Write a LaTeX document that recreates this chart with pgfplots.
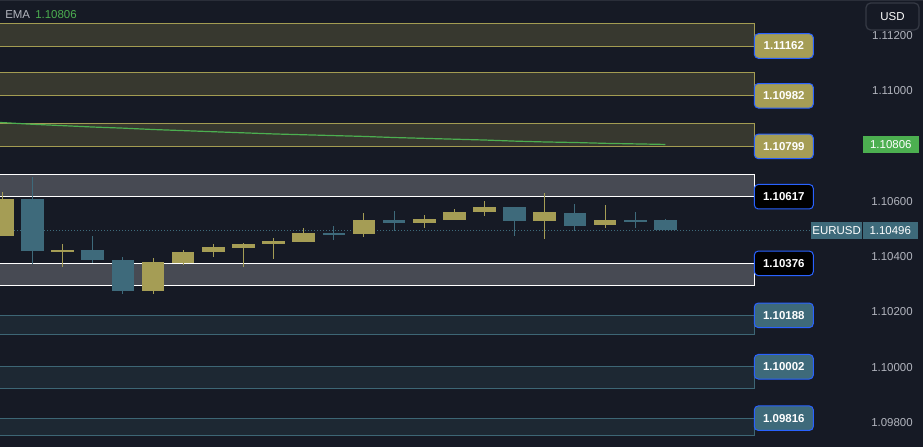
\documentclass[border=0pt]{standalone}
\usepackage{pgfplots}
\pgfplotsset{compat=1.18}
\usepackage{pgfplotstable}
\usepackage{fontspec}
\setmainfont{Liberation Sans}
\definecolor{bg}{HTML}{161A25}
\definecolor{topc}{HTML}{2A2E39}
\definecolor{olivefill}{HTML}{37382F}
\definecolor{oliveline}{HTML}{A39C52}
\definecolor{olivelab}{HTML}{A59D55}
\definecolor{whitefill}{HTML}{474A53}
\definecolor{bluefill}{HTML}{1D2833}
\definecolor{blueline}{HTML}{3D6675}
\definecolor{bluelab}{HTML}{3E6A7A}
\definecolor{bullc}{HTML}{A59D55}
\definecolor{bearc}{HTML}{3E6A7B}
\definecolor{emac}{HTML}{4CAF50}
\definecolor{tickgray}{HTML}{B2B5BE}
\definecolor{lblue}{HTML}{2962FF}
\definecolor{usdline}{HTML}{363A45}

% candles: index open high low close
\pgfplotstableread{
i o h l c
0 1.10475 1.10634 1.10475 1.10608
2 1.10420 1.10445 1.10362 1.10426
5 1.10275 1.10394 1.10264 1.10380
6 1.10377 1.10423 1.10372 1.10419
7 1.10417 1.10445 1.10399 1.10434
8 1.10431 1.10452 1.10362 1.10448
9 1.10446 1.10466 1.10390 1.10456
10 1.10453 1.10506 1.10453 1.10485
12 1.10481 1.10561 1.10474 1.10532
14 1.10524 1.10553 1.10503 1.10539
15 1.10535 1.10572 1.10535 1.10564
16 1.10561 1.10601 1.10546 1.10579
18 1.10528 1.10630 1.10466 1.10561
20 1.10514 1.10586 1.10503 1.10532
}\bulltab
\pgfplotstableread{
i o h l c
1 1.10608 1.10690 1.10375 1.10420
3 1.10423 1.10474 1.10379 1.10388
4 1.10390 1.10401 1.10264 1.10275
11 1.10487 1.10514 1.10463 1.10481
13 1.10532 1.10564 1.10495 1.10524
17 1.10579 1.10579 1.10474 1.10528
19 1.10561 1.10590 1.10495 1.10514
21 1.10534 1.10561 1.10503 1.10528
22 1.10532 1.10539 1.10496 1.10496
}\beartab
\pgfplotstableread{
i v
-1 1.10890
0 1.10885
1 1.10879
2 1.10874
3 1.10869
4 1.10865
5 1.10860
6 1.10856
7 1.10852
8 1.10848
9 1.10844
10 1.10841
11 1.10838
12 1.10835
13 1.10831
14 1.10828
15 1.10825
16 1.10822
17 1.10818
18 1.10815
19 1.10813
20 1.10810
21 1.10808
22 1.10806
}\ematab

\tikzset{
  plab/.style={rounded corners=3pt, draw=lblue, line width=0.75pt,
    minimum width=44.25pt, minimum height=18.4pt, inner sep=0pt,
    text=white, font=\bfseries\fontsize{8.6}{10}\selectfont},
  slab/.style={minimum height=12.75pt, inner sep=0pt, text=white,
    font=\fontsize{8.6}{10}\selectfont}
}

\begin{document}
\begin{tikzpicture}[x=1pt,y=1pt]
\fill[bg] (0,0) rectangle (692.25,335.25);
\begin{axis}[at={(0,0)}, anchor=south west, scale only axis,
  width=692.25pt, height=335.25pt,
  xmin=-0.0763, xmax=30.548, ymin=1.0971175, ymax=1.1132839,
  axis line style={draw=none}, tick style={draw=none},
  xtick=\empty,
  ytick={1.098,1.100,1.102,1.104,1.106,1.110,1.112},
  yticklabels={1.09800,1.10000,1.10200,1.10400,1.10600,1.11000,1.11200},
  yticklabel pos=right,
  yticklabel style={anchor=east, inner sep=0pt, xshift=-7.5pt, text=tickgray,
    font=\fontsize{8.6}{10}\selectfont},
  clip=true]

% zones
\addplot[fill=olivefill, draw=oliveline, line width=0.75pt] coordinates {(-1,1.11162) (24.97,1.11162) (24.97,1.11245) (-1,1.11245)} -- cycle;
\addplot[fill=olivefill, draw=oliveline, line width=0.75pt] coordinates {(-1,1.10982) (24.97,1.10982) (24.97,1.11066) (-1,1.11066)} -- cycle;
\addplot[fill=olivefill, draw=oliveline, line width=0.75pt] coordinates {(-1,1.10799) (24.97,1.10799) (24.97,1.10882) (-1,1.10882)} -- cycle;
\addplot[fill=whitefill, draw=white, line width=0.9pt] coordinates {(-1,1.10617) (24.97,1.10617) (24.97,1.10698) (-1,1.10698)} -- cycle;
\addplot[fill=whitefill, draw=white, line width=0.9pt] coordinates {(-1,1.10295) (24.97,1.10295) (24.97,1.10376) (-1,1.10376)} -- cycle;
\addplot[fill=bluefill, draw=blueline, line width=0.75pt] coordinates {(-1,1.10117) (24.97,1.10117) (24.97,1.10188) (-1,1.10188)} -- cycle;
\addplot[fill=bluefill, draw=blueline, line width=0.75pt] coordinates {(-1,1.09924) (24.97,1.09924) (24.97,1.10002) (-1,1.10002)} -- cycle;
\addplot[fill=bluefill, draw=blueline, line width=0.75pt] coordinates {(-1,1.09752) (24.97,1.09752) (24.97,1.09816) (-1,1.09816)} -- cycle;

% EMA
\addplot[draw=emac, line width=0.9pt, mark=none] table[x=i, y=v] {\ematab};

% current price dotted line
\addplot[draw=bearc, line width=0.75pt, dash pattern=on 0.75pt off 1.5pt] coordinates {(-1,1.10496) (26.83,1.10496)};

% wicks
\addplot[draw=none, mark=none, error bars/.cd, y dir=both, y explicit, error mark=none,
  error bar style={draw=bullc, line width=0.75pt, solid}]
  table[x=i, y expr={(\thisrow{h}+\thisrow{l})/2}, y error expr={(\thisrow{h}-\thisrow{l})/2}] {\bulltab};
\addplot[draw=none, mark=none, error bars/.cd, y dir=both, y explicit, error mark=none,
  error bar style={draw=bearc, line width=0.75pt, solid}]
  table[x=i, y expr={(\thisrow{h}+\thisrow{l})/2}, y error expr={(\thisrow{h}-\thisrow{l})/2}] {\beartab};
% bodies
\addplot[draw=none, mark=none, error bars/.cd, y dir=both, y explicit, error mark=none,
  error bar style={draw=bullc, line width=17pt, solid}]
  table[x=i, y expr={(\thisrow{o}+\thisrow{c})/2}, y error expr={abs(\thisrow{c}-\thisrow{o})/2}] {\bulltab};
\addplot[draw=none, mark=none, error bars/.cd, y dir=both, y explicit, error mark=none,
  error bar style={draw=bearc, line width=17pt, solid}]
  table[x=i, y expr={(\thisrow{o}+\thisrow{c})/2}, y error expr={abs(\thisrow{c}-\thisrow{o})/2}] {\beartab};

% level labels
\node[plab, fill=olivelab] at (axis cs:25.93,1.11162) {1.11162};
\node[plab, fill=olivelab] at (axis cs:25.93,1.10982) {1.10982};
\node[plab, fill=olivelab] at (axis cs:25.93,1.10799) {1.10799};
\node[plab, fill=black] at (axis cs:25.93,1.10617) {1.10617};
\node[plab, fill=black] at (axis cs:25.93,1.10376) {1.10376};
\node[plab, fill=bluelab] at (axis cs:25.93,1.10188) {1.10188};
\node[plab, fill=bluelab] at (axis cs:25.93,1.10002) {1.10002};
\node[plab, fill=bluelab] at (axis cs:25.93,1.09816) {1.09816};

% price scale labels
\node[slab, fill=emac, minimum width=42pt] at (axis cs:29.48,1.10806) {1.10806};
\node[slab, fill=bluelab, minimum width=38.25pt] at (axis cs:27.68,1.10496) {EURUSD};
\node[slab, fill=bluelab, minimum width=41.25pt] at (axis cs:29.46,1.10496) {1.10496};
\end{axis}

% top strip, legend, currency button
\fill[topc] (0,334.5) rectangle (692.25,335.25);
\node[anchor=base west, inner sep=0pt, font=\fontsize{8.6}{10}\selectfont, text=tickgray] at (3.75,321) {EMA};
\node[anchor=base west, inner sep=0pt, font=\fontsize{8.6}{10}\selectfont, text=emac] at (26.25,321) {1.10806};
\draw[usdline, fill=bg, line width=0.9pt, rounded corners=3.5pt] (649.5,312.75) rectangle (689.25,333);
\node[inner sep=0pt, font=\fontsize{8.6}{10}\selectfont, text=white] at (669.4,322.9) {USD};

\pgfresetboundingbox
\path (0,0) rectangle (692.25,335.25);
\end{tikzpicture}
\end{document}
